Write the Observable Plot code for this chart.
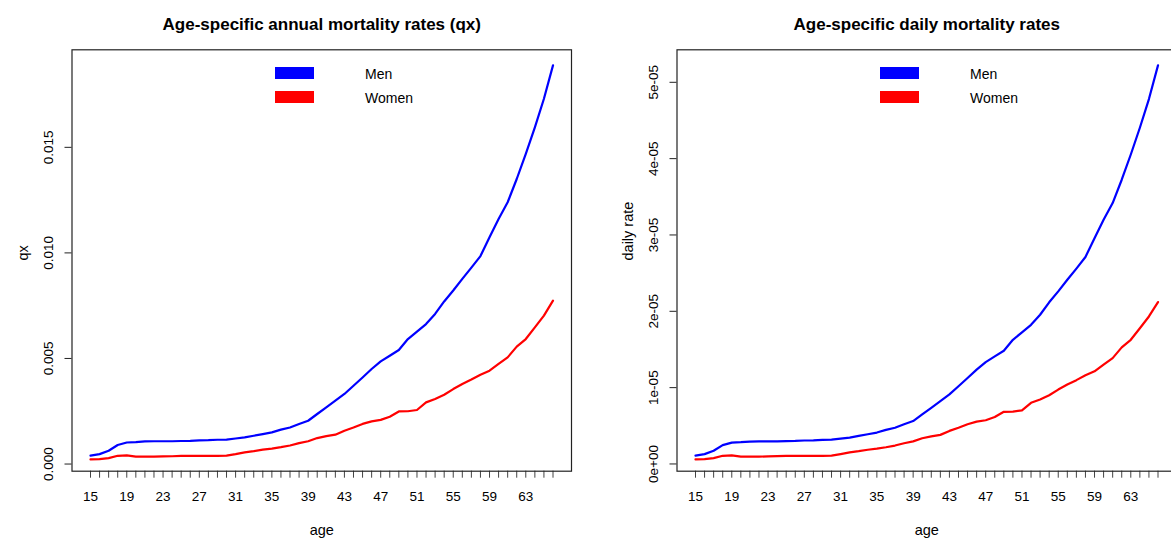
<!DOCTYPE html>
<html><head><meta charset="utf-8">
<script src="https://cdn.jsdelivr.net/npm/d3@7"></script>
<script src="https://cdn.jsdelivr.net/npm/@observablehq/plot@0.6"></script>
<style>
html,body{margin:0;padding:0;background:#fff;overflow:hidden;}
#wrap{display:flex;width:1171px;height:545px;overflow:hidden;font-family:"Liberation Sans",Arial,sans-serif;}
.panel{position:relative;flex:0 0 605px;width:605px;height:545px;}
.legend{position:absolute;left:275px;top:67px;font-size:14px;color:#000;}
.row{position:relative;height:24px;width:200px;}
.sw{position:absolute;left:0;top:0;width:39px;height:12px;}
.lab{position:absolute;left:90px;top:-1px;line-height:16px;}
</style></head><body><div id="wrap"></div>
<script>
const ages = [15,16,17,18,19,20,21,22,23,24,25,26,27,28,29,30,31,32,33,34,35,36,37,38,39,40,
  41,42,43,44,45,46,47,48,49,50,51,52,53,54,55,56,57,58,59,60,61,62,63,64,65,66];
const xTickLabels = [15,19,23,27,31,35,39,43,47,51,55,59,63];
const seriesNames = ["Men","Women"];
const seriesColors = ["#0000ff","#ff0000"];

// annual mortality rates (qx)
const menQx = [0.00040,0.00047,0.00063,0.00090,0.00102,0.00104,0.00107,0.00108,0.00108,0.00108,
  0.00109,0.00110,0.00112,0.00113,0.00115,0.00116,0.00121,0.00126,0.00134,0.00142,
  0.00150,0.00163,0.00173,0.00190,0.00205,0.00237,0.00268,0.00300,0.00332,0.00371,
  0.00410,0.00450,0.00486,0.00513,0.00540,0.00592,0.00627,0.00663,0.00711,0.00770,
  0.00822,0.00877,0.00930,0.00985,0.01074,0.01161,0.01240,0.01350,0.01469,0.01595,
  0.01730,0.01888];
const womenQx = [0.00022,0.00023,0.00028,0.00039,0.00041,0.00035,0.00035,0.00035,0.00036,0.00037,
  0.00039,0.00039,0.00039,0.00039,0.00039,0.00040,0.00047,0.00055,0.00061,0.00068,
  0.00073,0.00080,0.00088,0.00099,0.00108,0.00123,0.00132,0.00139,0.00158,0.00173,
  0.00190,0.00202,0.00209,0.00224,0.00249,0.00250,0.00256,0.00292,0.00308,0.00328,
  0.00355,0.00379,0.00400,0.00423,0.00442,0.00474,0.00505,0.00556,0.00592,0.00647,
  0.00703,0.00774];

// daily mortality rates
const menDaily = [1.096e-6,1.288e-6,1.726e-6,2.467e-6,2.795e-6,2.850e-6,2.933e-6,2.960e-6,2.960e-6,2.960e-6,
  2.988e-6,3.015e-6,3.070e-6,3.097e-6,3.152e-6,3.180e-6,3.317e-6,3.454e-6,3.674e-6,3.893e-6,
  4.113e-6,4.469e-6,4.744e-6,5.210e-6,5.622e-6,6.500e-6,7.352e-6,8.231e-6,9.111e-6,1.0183e-5,
  1.1256e-5,1.2357e-5,1.3347e-5,1.4091e-5,1.4834e-5,1.6267e-5,1.7232e-5,1.8224e-5,1.9548e-5,2.1177e-5,
  2.2613e-5,2.4132e-5,2.5597e-5,2.7119e-5,2.9582e-5,3.1992e-5,3.4183e-5,3.7236e-5,4.0542e-5,4.4047e-5,
  4.7807e-5,5.2214e-5];
const womenDaily = [6.03e-7,6.30e-7,7.67e-7,1.068e-6,1.123e-6,9.59e-7,9.59e-7,9.59e-7,9.86e-7,1.014e-6,
  1.068e-6,1.068e-6,1.068e-6,1.068e-6,1.068e-6,1.096e-6,1.288e-6,1.507e-6,1.671e-6,1.863e-6,
  2.000e-6,2.192e-6,2.411e-6,2.713e-6,2.960e-6,3.371e-6,3.618e-6,3.810e-6,4.331e-6,4.745e-6,
  5.210e-6,5.539e-6,5.731e-6,6.144e-6,6.831e-6,6.858e-6,7.023e-6,8.012e-6,8.451e-6,9.001e-6,
  9.744e-6,1.0404e-5,1.0981e-5,1.1613e-5,1.2136e-5,1.3017e-5,1.3870e-5,1.5275e-5,1.6266e-5,1.7782e-5,
  1.9324e-5,2.1211e-5];

const qxTicks = [0,0.005,0.010,0.015];
const qxTickLabels = ["0.000","0.005","0.010","0.015"];
const dailyTicks = [0,1e-5,2e-5,3e-5,4e-5,5e-5];
const dailyTickLabels = ["0e+00","1e-05","2e-05","3e-05","4e-05","5e-05"];

function panel({title, ylabel, men, women, yTicks, yTickLabels}) {
  const data = [];
  ages.forEach((a, i) => {
    data.push({age: a, v: men[i], sex: seriesNames[0]});
  });
  ages.forEach((a, i) => {
    data.push({age: a, v: women[i], sex: seriesNames[1]});
  });
  const [mn, mx] = d3.extent(men);
  const pad = 0.04 * (mx - mn);
  const a0 = ages[0], a1 = ages[ages.length - 1];
  const xpad = 0.04 * (a1 - a0);
  const plot = Plot.plot({
    width: 605, height: 545,
    marginLeft: 71.5, marginRight: 34, marginTop: 49.3, marginBottom: 74.3,
    style: {fontFamily: "'Liberation Sans', Arial, sans-serif", fontSize: "13px", background: "#fff", color: "#000", overflow: "visible"},
    x: {domain: [a0 - xpad, a1 + xpad]},
    y: {domain: [mn - pad, mx + pad]},
    color: {domain: seriesNames, range: seriesColors},
    marks: [
      Plot.axisX({ticks: ages, tickSize: 7, tickPadding: 13, label: null, fontSize: 13.5,
        stroke: "#444", tickFormat: d => xTickLabels.includes(d) ? String(d) : ""}),
      Plot.axisY({ticks: yTicks, tickSize: 7, tickRotate: -90, tickPadding: 12, label: null, fontSize: 13.5,
        stroke: "#222", tickFormat: d => yTickLabels[yTicks.indexOf(d)]}),
      Plot.line(data, {x: "age", y: "v", z: "sex", stroke: "sex", strokeWidth: 2.2}),
      Plot.frame({stroke: "#222", strokeWidth: 1.2}),
      Plot.text([title], {frameAnchor: "top", dy: -32, fontSize: 17, fontWeight: "bold"}),
      Plot.text(["age"], {frameAnchor: "bottom", dy: 64, fontSize: 14.5}),
      Plot.text([ylabel], {frameAnchor: "left", dx: -49, rotate: -90, fontSize: 14.5})
    ]
  });
  const div = document.createElement("div");
  div.className = "panel";
  div.appendChild(plot);
  const leg = document.createElement("div");
  leg.className = "legend";
  seriesNames.forEach((n, i) => {
    const row = document.createElement("div");
    row.className = "row";
    const sw = document.createElement("div");
    sw.className = "sw";
    sw.style.background = seriesColors[i];
    const lab = document.createElement("div");
    lab.className = "lab";
    lab.textContent = n;
    row.appendChild(sw); row.appendChild(lab);
    leg.appendChild(row);
  });
  div.appendChild(leg);
  return div;
}

const wrap = document.getElementById("wrap");
wrap.appendChild(panel({title: "Age-specific annual mortality rates (qx)", ylabel: "qx",
  men: menQx, women: womenQx, yTicks: qxTicks, yTickLabels: qxTickLabels}));
wrap.appendChild(panel({title: "Age-specific daily mortality rates", ylabel: "daily rate",
  men: menDaily, women: womenDaily, yTicks: dailyTicks, yTickLabels: dailyTickLabels}));
</script>
</body></html>
